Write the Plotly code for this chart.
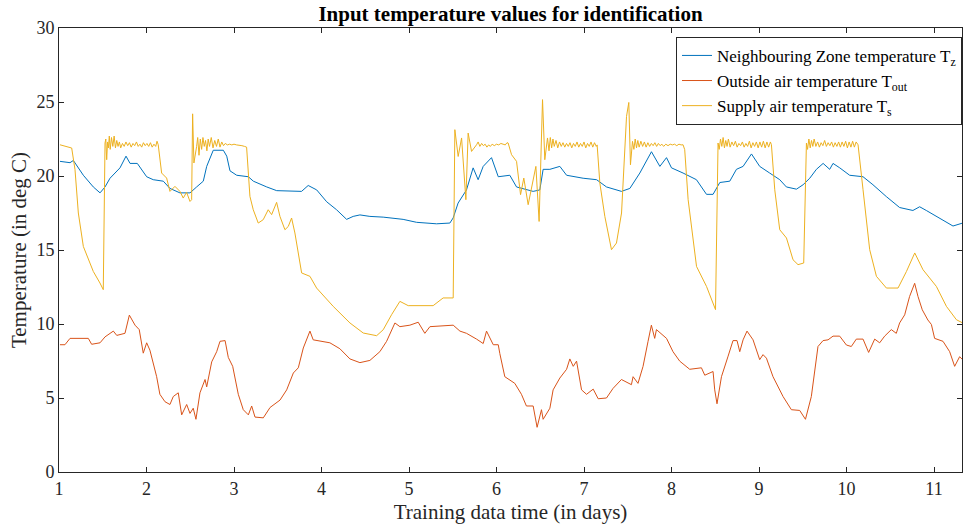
import plotly.graph_objects as go

# ---------------- data (days, deg C) ----------------
tz_day = [1.011, 1.126, 1.164, 1.278, 1.392, 1.469, 1.526, 1.583, 1.697, 1.766, 1.812, 1.895,
          2.002, 2.077, 2.192, 2.268, 2.382, 2.497, 2.573, 2.649, 2.688, 2.763, 2.878, 2.917,
          2.954, 3.031, 3.164, 3.221, 3.374, 3.488, 3.772, 3.848, 3.945, 4.059, 4.172, 4.287,
          4.362, 4.439, 4.553, 4.705, 4.933, 5.087, 5.315, 5.467, 5.505, 5.561, 5.657, 5.733,
          5.790, 5.848, 5.943, 6.020, 6.152, 6.229, 6.419, 6.495, 6.533, 6.610, 6.724, 6.801,
          6.990, 7.144, 7.257, 7.428, 7.524, 7.638, 7.771, 7.867, 7.943, 8.000, 8.132, 8.285,
          8.400, 8.475, 8.552, 8.666, 8.742, 8.818, 8.914, 9.008, 9.122, 9.237, 9.313, 9.428,
          9.504, 9.580, 9.656, 9.733, 9.808, 9.846, 9.923, 10.036, 10.189, 10.302, 10.455,
          10.607, 10.759, 10.836, 10.912, 11.064, 11.217, 11.327]
tz_val = [20.99, 20.90, 21.05, 20.05, 19.26, 18.86, 19.26, 19.85, 20.55, 21.34, 20.85, 20.85,
          19.95, 19.75, 19.65, 19.16, 18.86, 18.86, 19.26, 19.65, 20.65, 21.74, 21.74, 21.34,
          20.35, 20.05, 19.95, 19.65, 19.26, 19.01, 18.96, 19.36, 19.06, 18.26, 17.72, 17.07,
          17.27, 17.37, 17.27, 17.22, 17.07, 16.87, 16.77, 16.82, 17.17, 18.17, 19.06, 20.55,
          19.75, 20.65, 21.24, 19.95, 20.05, 19.26, 18.96, 19.06, 20.45, 20.45, 20.65, 20.05,
          19.85, 19.75, 19.26, 18.96, 19.16, 20.20, 21.64, 20.65, 21.24, 20.55, 20.20, 19.75,
          18.76, 18.76, 19.56, 19.65, 20.45, 20.65, 21.49, 20.65, 20.20, 19.75, 19.26, 19.11,
          19.41, 19.85, 20.45, 20.85, 20.45, 20.85, 20.55, 20.05, 19.95, 19.41, 18.61,
          17.87, 17.67, 17.92, 17.67, 17.17, 16.62, 16.82]

tout_day = [1.011, 1.068, 1.126, 1.335, 1.373, 1.469, 1.526, 1.621, 1.660, 1.754, 1.804, 1.869,
            1.917, 1.963, 2.002, 2.039, 2.116, 2.153, 2.211, 2.268, 2.306, 2.363, 2.402, 2.459,
            2.497, 2.534, 2.565, 2.611, 2.669, 2.688, 2.745, 2.802, 2.840, 2.898, 2.935, 2.985,
            3.049, 3.106, 3.164, 3.202, 3.240, 3.335, 3.412, 3.526, 3.602, 3.678, 3.735, 3.792,
            3.868, 3.905, 4.096, 4.210, 4.325, 4.439, 4.553, 4.667, 4.744, 4.839, 4.896, 5.010,
            5.105, 5.181, 5.239, 5.505, 5.582, 5.657, 5.772, 5.848, 5.886, 5.963, 6.020, 6.038,
            6.095, 6.209, 6.285, 6.342, 6.419, 6.464, 6.514, 6.533, 6.610, 6.647, 6.724, 6.801,
            6.838, 6.877, 6.915, 6.972, 7.029, 7.105, 7.162, 7.257, 7.332, 7.428, 7.542, 7.561,
            7.617, 7.675, 7.732, 7.770, 7.808, 7.828, 7.943, 8.017, 8.094, 8.208, 8.342, 8.380,
            8.475, 8.494, 8.520, 8.571, 8.647, 8.703, 8.749, 8.780, 8.818, 8.863, 8.932, 9.008,
            9.046, 9.085, 9.160, 9.275, 9.370, 9.465, 9.531, 9.598, 9.674, 9.732, 9.789, 9.846,
            9.922, 9.999, 10.055, 10.112, 10.189, 10.253, 10.322, 10.379, 10.436, 10.512, 10.569,
            10.607, 10.665, 10.721, 10.779, 10.817, 10.866, 10.930, 10.970, 11.007, 11.103,
            11.179, 11.236, 11.293, 11.327]
tout_val = [8.60, 8.60, 9.03, 9.03, 8.63, 8.73, 9.13, 9.52, 9.23, 9.37, 10.60, 9.92,
            9.62, 8.03, 8.73, 8.23, 6.44, 5.25, 4.75, 4.56, 5.10, 5.35, 3.86, 4.56,
            3.96, 4.31, 3.56, 5.35, 6.25, 5.75, 7.44, 8.13, 8.83, 8.88, 7.74, 7.14,
            5.25, 4.21, 3.86, 4.46, 3.71, 3.66, 4.36, 4.86, 5.55, 6.69, 7.04, 8.38,
            9.52, 8.93, 8.73, 8.33, 7.64, 7.39, 7.54, 8.13, 8.83, 10.07, 9.82, 9.92,
            10.12, 9.37, 9.82, 9.92, 9.52, 9.37, 8.98, 8.68, 9.52, 8.60, 8.60, 8.00,
            6.44, 5.99, 5.25, 4.46, 4.46, 3.02, 4.21, 3.56, 4.31, 5.55, 6.35, 6.94,
            7.64, 7.14, 7.49, 5.55, 5.25, 5.60, 4.95, 5.00, 5.65, 6.25, 5.90, 6.44,
            5.99, 7.14, 8.83, 9.92, 9.03, 9.62, 9.03, 8.13, 7.49, 6.94, 7.04, 6.54,
            6.79, 5.55, 4.61, 6.44, 7.83, 8.88, 8.88, 8.13, 8.93, 9.52, 8.93, 7.59,
            7.93, 7.69, 6.44, 5.10, 4.21, 4.16, 3.56, 5.10, 8.48, 8.88, 8.93, 9.18,
            9.18, 8.58, 8.48, 8.98, 8.98, 8.08, 8.98, 8.73, 9.18, 9.62, 9.37,
            10.07, 10.62, 11.86, 12.75, 11.86, 10.96, 10.27, 9.97, 9.03, 8.83,
            8.13, 7.14, 7.79, 7.59]

ts_day = [1.011, 1.145, 1.183, 1.221, 1.278, 1.392, 1.468, 1.506,
          1.526, 1.535, 1.545, 1.555, 1.565, 1.575, 1.585, 1.600, 1.615, 1.630, 1.645, 1.660,
          1.675, 1.690, 1.705, 1.725, 1.745, 1.765, 1.785, 1.805, 1.825, 1.845, 1.865, 1.885,
          1.905, 1.925, 1.945, 1.965, 1.985, 2.005, 2.025, 2.045, 2.065, 2.085, 2.105, 2.120,
          2.134, 2.173, 2.230, 2.268, 2.325, 2.382, 2.420, 2.458, 2.497, 2.516, 2.527, 2.542,
          2.573, 2.585, 2.600, 2.615, 2.630, 2.645, 2.660, 2.675, 2.690, 2.705, 2.720, 2.740,
          2.760, 2.780, 2.800, 2.820, 2.840, 2.860, 2.880, 2.900, 2.925, 2.950, 2.975, 3.000,
          3.030, 3.060, 3.090, 3.120, 3.144, 3.182, 3.220, 3.277, 3.334, 3.391, 3.430, 3.487,
          3.525, 3.582, 3.620, 3.658, 3.696, 3.773, 3.868, 3.944, 4.134, 4.325, 4.477, 4.630,
          4.705, 4.801, 4.896, 4.991, 5.276, 5.390, 5.505,
          5.524, 5.562, 5.601, 5.650, 5.676, 5.715, 5.772, 5.790, 5.810, 5.830, 5.850, 5.870,
          5.890, 5.910, 5.930, 5.950, 5.975, 6.000, 6.025, 6.050, 6.075, 6.100, 6.120, 6.133,
          6.172, 6.229, 6.275, 6.312, 6.362, 6.412, 6.450, 6.487, 6.526, 6.552, 6.583,
          6.600, 6.615, 6.630, 6.645, 6.660, 6.680, 6.700, 6.720, 6.740, 6.760, 6.780, 6.800,
          6.820, 6.840, 6.860, 6.880, 6.900, 6.920, 6.940, 6.960, 6.980, 7.000, 7.020, 7.040,
          7.060, 7.080, 7.100, 7.120, 7.140, 7.150, 7.181, 7.238, 7.314, 7.371, 7.429, 7.486,
          7.512, 7.531, 7.554,
          7.570, 7.585, 7.600, 7.615, 7.630, 7.650, 7.670, 7.690, 7.710, 7.730, 7.750, 7.770,
          7.790, 7.810, 7.830, 7.850, 7.870, 7.890, 7.910, 7.935, 7.960, 7.985, 8.010, 8.035,
          8.060, 8.085, 8.110, 8.132, 8.151, 8.190, 8.286, 8.400, 8.503, 8.532,
          8.545, 8.560, 8.575, 8.590, 8.605, 8.620, 8.635, 8.650, 8.670, 8.690, 8.710, 8.730,
          8.750, 8.770, 8.790, 8.810, 8.830, 8.850, 8.870, 8.890, 8.910, 8.930, 8.950, 8.970,
          8.990, 9.010, 9.030, 9.050, 9.070, 9.090, 9.110, 9.130, 9.142, 9.180, 9.237, 9.314,
          9.389, 9.446, 9.511, 9.542,
          9.555, 9.570, 9.585, 9.600, 9.615, 9.630, 9.650, 9.670, 9.690, 9.710, 9.730, 9.750,
          9.770, 9.790, 9.810, 9.830, 9.850, 9.870, 9.890, 9.910, 9.930, 9.950, 9.970, 9.990,
          10.010, 10.030, 10.050, 10.070, 10.090, 10.110, 10.132, 10.189, 10.265, 10.342,
          10.456, 10.589, 10.685, 10.780, 10.874, 11.027, 11.142, 11.256, 11.328]
ts_val = [22.11, 21.89, 20.43, 17.50, 15.24, 13.55, 12.77, 12.32,
          22.23, 22.50, 21.10, 22.30, 21.90, 22.70, 21.80, 22.60, 22.00, 22.70, 21.90, 22.40,
          22.00, 22.30, 21.90, 22.20, 22.00, 22.30, 22.05, 22.25, 21.95, 22.20, 22.05, 22.30,
          22.00, 22.15, 21.95, 22.25, 22.05, 22.20, 22.00, 22.25, 21.95, 22.15, 22.00, 22.35,
          22.11, 20.20, 19.86, 18.96, 19.30, 18.96, 18.51, 18.90, 18.28, 18.40, 24.20, 20.88,
          22.00, 22.60, 21.40, 22.50, 21.80, 22.60, 22.00, 22.40, 21.70, 22.50, 22.00, 22.60,
          21.90, 22.40, 22.00, 22.50, 21.95, 22.30, 22.05, 22.20, 22.10, 22.15, 22.10, 22.15,
          22.10, 22.10, 22.05, 22.00, 21.95, 18.62, 17.72, 16.82, 17.05, 17.72, 17.39, 18.22,
          17.27, 16.37, 16.59, 17.16, 16.15, 13.45, 13.22, 12.43, 11.19, 10.07, 9.39, 9.21,
          9.61, 10.63, 11.53, 11.24, 11.24, 11.76, 11.76,
          23.13, 21.32, 22.57, 18.40, 22.90, 21.66, 22.11, 22.30, 22.00, 22.20, 22.05, 22.15,
          21.95, 22.10, 22.00, 22.15, 22.05, 22.15, 22.10, 22.20, 22.15, 22.10, 22.25, 22.23,
          21.44, 20.99, 18.74, 19.86, 18.06, 19.64, 20.65, 16.93, 25.16, 21.10, 22.57,
          21.70, 22.60, 21.90, 22.50, 22.00, 22.40, 21.90, 22.30, 22.00, 22.25, 21.95, 22.20,
          22.00, 22.25, 21.90, 22.20, 22.00, 22.30, 21.95, 22.20, 22.00, 22.30, 21.90, 22.20,
          22.00, 22.30, 21.95, 22.25, 22.00, 22.10, 19.53, 17.27, 15.02, 15.47, 17.50, 24.03,
          24.97, 20.76, 22.34,
          21.80, 22.50, 21.90, 22.40, 21.95, 22.35, 22.00, 22.30, 21.95, 22.25, 22.00, 22.20,
          22.05, 22.25, 22.00, 22.20, 22.05, 22.15, 22.00, 22.15, 22.05, 22.15, 22.10, 22.15,
          22.05, 22.15, 22.10, 22.11, 21.78, 18.40, 13.89, 12.54, 10.97, 22.23,
          21.80, 22.50, 22.00, 22.60, 21.90, 22.40, 22.00, 22.50, 21.95, 22.30, 22.05, 22.35,
          21.95, 22.20, 22.05, 22.30, 21.95, 22.20, 22.00, 22.35, 21.90, 22.25, 22.00, 22.30,
          21.90, 22.30, 21.95, 22.35, 21.90, 22.30, 21.95, 22.30, 22.11, 19.07, 16.37, 15.81,
          14.34, 14.01, 14.12, 22.23,
          21.80, 22.50, 21.90, 22.40, 22.00, 22.50, 22.00, 22.30, 21.95, 22.25, 22.05, 22.40,
          22.00, 22.25, 22.05, 22.30, 21.95, 22.25, 22.00, 22.30, 21.95, 22.30, 22.00, 22.35,
          21.90, 22.30, 21.95, 22.35, 21.95, 22.30, 22.11, 19.07, 15.02, 13.22,
          12.43, 12.43, 13.55, 14.80, 13.67, 12.54, 11.19, 10.29, 10.07]

names = ["Neighbouring Zone temperature T<sub>z</sub>",
         "Outside air temperature T<sub>out</sub>",
         "Supply air temperature T<sub>s</sub>"]
colors = ["#0072BD", "#D95319", "#EDB120"]

x_ticks = list(range(1, 12))
y_ticks = list(range(0, 31, 5))

FONT = "Liberation Serif, Times New Roman, serif"
AX = "#262626"

fig = go.Figure()
for xs, ys, nm, c in [(tz_day, tz_val, names[0], colors[0]),
                      (tout_day, tout_val, names[1], colors[1]),
                      (ts_day, ts_val, names[2], colors[2])]:
    fig.add_trace(go.Scatter(x=xs, y=ys, mode="lines", name=nm,
                             line=dict(color=c, width=1)))

axis_common = dict(showgrid=False, zeroline=False, showline=True, linecolor=AX, linewidth=1,
                   mirror="ticks", ticks="inside", ticklen=5, tickcolor=AX, tickwidth=1,
                   tickfont=dict(family=FONT, size=18, color=AX))

fig.update_layout(
    width=963, height=529,
    margin=dict(l=59, r=1, t=28, b=57),
    paper_bgcolor="white", plot_bgcolor="white",
    font=dict(family=FONT, color=AX),
    title=dict(text="<b>Input temperature values for identification</b>",
               font=dict(family=FONT, size=21, color="black"),
               x=0.5, xref="paper", xanchor="center",
               y=1 - 14 / 529, yref="container", yanchor="middle"),
    xaxis=dict(range=[1, 11.32], tickvals=x_ticks, ticktext=[str(v) for v in x_ticks],
               title=dict(text="Training data time (in days)",
                          font=dict(family=FONT, size=21, color=AX), standoff=6),
               **axis_common),
    yaxis=dict(range=[0, 30], tickvals=y_ticks, ticktext=[str(v) for v in y_ticks],
               title=dict(text="Temperature (in deg C)",
                          font=dict(family=FONT, size=21, color=AX), standoff=4),
               **axis_common),
    showlegend=True,
    legend=dict(x=1.0, y=0.98, xanchor="right", yanchor="top",
                bgcolor="white", bordercolor=AX, borderwidth=1,
                font=dict(family=FONT, size=17, color="black"),
                itemwidth=30, tracegroupgap=0),
)

fig.write_html("out.html")
